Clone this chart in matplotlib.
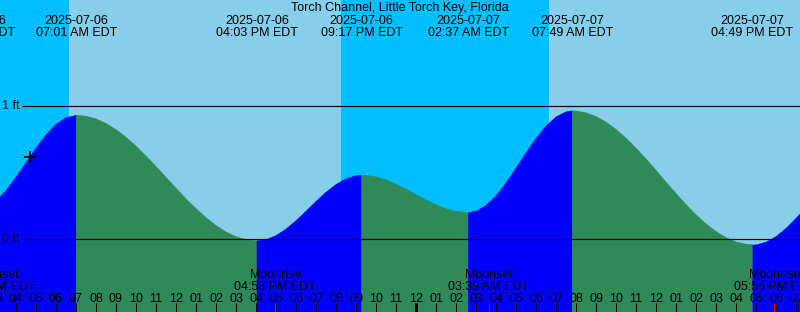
import matplotlib
matplotlib.use("Agg")
import matplotlib.pyplot as plt
import matplotlib.transforms as mtransforms

# ---------------- data ----------------
title = "Torch Channel, Little Torch Key, Florida"

# hours since 2025-07-06 00:00 EDT, tide height in feet
tide_hours = [3.0, 3.5, 4.0, 4.5, 5.0, 5.5, 6.0, 6.5, 7.0, 7.017,
              7.5, 8.0, 8.5, 9.0, 9.5, 10.0, 10.5, 11.0, 11.5, 12.0,
              12.5, 13.0, 13.5, 14.0, 14.5, 15.0, 15.5, 16.0, 16.05,
              16.5, 17.0, 17.5, 18.0, 18.5, 19.0, 19.5, 20.0, 20.5, 21.0, 21.283,
              21.5, 22.0, 22.5, 23.0, 23.5, 24.0, 24.5, 25.0, 25.5, 26.0, 26.5, 26.617,
              27.0, 27.5, 28.0, 28.5, 29.0, 29.5, 30.0, 30.5, 31.0, 31.5, 31.817,
              32.0, 32.5, 33.0, 33.5, 34.0, 34.5, 35.0, 35.5, 36.0, 36.5, 37.0,
              37.5, 38.0, 38.5, 39.0, 39.5, 40.0, 40.5, 40.817,
              41.0, 41.5, 42.0, 42.5, 43.0, 43.5]
tide_ft = [0.284, 0.365, 0.465, 0.575, 0.685, 0.784, 0.863, 0.914, 0.931, 0.932,
           0.925, 0.905, 0.871, 0.824, 0.767, 0.700, 0.626, 0.547, 0.466, 0.384,
           0.304, 0.230, 0.162, 0.103, 0.055, 0.019, -0.003, -0.011, -0.012,
           -0.003, 0.027, 0.076, 0.139, 0.210, 0.284, 0.353, 0.411, 0.454, 0.477, 0.481,
           0.480, 0.469, 0.446, 0.415, 0.377, 0.336, 0.296, 0.259, 0.229, 0.209, 0.201, 0.200,
           0.210, 0.253, 0.326, 0.422, 0.533, 0.648, 0.757, 0.850, 0.919, 0.958, 0.965,
           0.964, 0.951, 0.923, 0.881, 0.826, 0.760, 0.685, 0.604, 0.518, 0.430, 0.344,
           0.261, 0.184, 0.116, 0.058, 0.012, -0.020, -0.037, -0.040,
           -0.038, -0.017, 0.026, 0.088, 0.164, 0.246]

extreme_hours = [1.933, 7.017, 16.05, 21.283, 26.617, 31.817, 40.817]
extreme_dates = ["2025-07-06", "2025-07-06", "2025-07-06", "2025-07-06",
                 "2025-07-07", "2025-07-07", "2025-07-07"]
extreme_times = ["01:56 AM EDT", "07:01 AM EDT", "04:03 PM EDT", "09:17 PM EDT",
                 "02:37 AM EDT", "07:49 AM EDT", "04:49 PM EDT"]

moon_hours = [2.95, 16.967, 27.65, 41.917]
moon_names = ["Moonset", "Moonrise", "Moonset", "Moonrise"]
moon_times = ["02:57 AM EDT", "04:58 PM EDT", "03:39 AM EDT", "05:55 PM EDT"]

day_starts = [6.65, 30.65]
day_ends = [20.25, 44.25]

now_hour = 4.7
now_ft = 0.62

level_ft = [1, 0]
level_labels = ["1 ft", "0 ft"]

hour_ticks = list(range(3, 44))
hour_labels = ["03", "04", "05", "06", "07", "08", "09", "10", "11", "12",
               "01", "02", "03", "04", "05", "06", "07", "08", "09", "10", "11", "12",
               "01", "02", "03", "04", "05", "06", "07", "08", "09", "10", "11", "12",
               "01", "02", "03", "04", "05", "06", "07"]
midnight_hours = [24]

# ---------------- style ----------------
W, H = 800, 312
NIGHT = "#00BFFF"
DAY = "#87CEEB"
RISE = "#0000FF"
FALL = "#2E8B57"
FONT = "Liberation Sans"
FS = 9

plt.rcParams["font.family"] = [FONT, "DejaVu Sans"]

fig = plt.figure(figsize=(W / 100, H / 100), dpi=100)
ax = fig.add_axes([0, 0, 1, 1])
ax.set_xlim(3.2, 43.2)
ax.set_ylim(-0.547, 1.799)
ax.axis("off")
ax.set_facecolor(NIGHT)
fig.patch.set_facecolor(NIGHT)
ax.axvspan(-10, 60, color=NIGHT, lw=0, zorder=0)
for s, e in zip(day_starts, day_ends):
    ax.axvspan(s, e, color=DAY, lw=0, zorder=0.5)

# tide fill, split into rising / falling runs
n = len(tide_hours)
start = 0
while start < n - 1:
    up = tide_ft[start + 1] > tide_ft[start]
    end = start + 1
    while end < n - 1 and (tide_ft[end + 1] > tide_ft[end]) == up:
        end += 1
    c = RISE if up else FALL
    ax.fill_between(tide_hours[start:end + 1], tide_ft[start:end + 1], -2,
                    color=c, lw=0.4, edgecolor=c, zorder=1)
    start = end

px = 0.72  # one pixel in points
blend = mtransforms.blended_transform_factory(ax.transData, fig.transFigure)
xpix = mtransforms.blended_transform_factory(fig.transFigure, ax.transData)

def fy(ypix):
    return 1 - ypix / H

# reference levels
for lv, lab in zip(level_ft, level_labels):
    ax.plot([22 / W, 1], [lv, lv], color="black", lw=px * 1.2, transform=xpix,
            zorder=3, solid_capstyle="butt")
    ax.text(2 / W, lv, lab, transform=xpix, ha="left", va="center",
            fontsize=FS, color="black", zorder=4)

# current-time mark
ax.plot([now_hour], [now_ft], marker="+", color="black", markersize=9,
        markeredgewidth=1.3, zorder=4)

# title and tide events
ax.text(0.5, fy(11.5), title, transform=fig.transFigure, ha="center",
        va="baseline", fontsize=FS, color="black")
for h, d, t in zip(extreme_hours, extreme_dates, extreme_times):
    ax.text(h, fy(24.5), d, transform=blend, ha="center", va="baseline",
            fontsize=FS, color="black", zorder=4)
    ax.text(h, fy(36.5), t, transform=blend, ha="center", va="baseline",
            fontsize=FS, color="black", zorder=4)

# moon events
for h, nm, t in zip(moon_hours, moon_names, moon_times):
    ax.text(h, fy(278.5), nm, transform=blend, ha="center", va="baseline",
            fontsize=FS, color="black", zorder=4)
    ax.text(h, fy(289.5), t, transform=blend, ha="center", va="baseline",
            fontsize=FS, color="black", zorder=4)
    ax.vlines(h, fy(312), fy(303), transform=blend, color="#FF0000",
              lw=px, zorder=5)

# hour ticks and labels
for h, lab in zip(hour_ticks, hour_labels):
    ax.text(h, fy(301.5), lab, transform=blend, ha="center", va="baseline",
            fontsize=FS, color="black", zorder=4)
    w = 3 * px if h in midnight_hours else px
    ax.vlines(h, fy(312), fy(303), transform=blend, color="black", lw=w, zorder=4)

fig.savefig("out.png", dpi=100, facecolor=NIGHT)
